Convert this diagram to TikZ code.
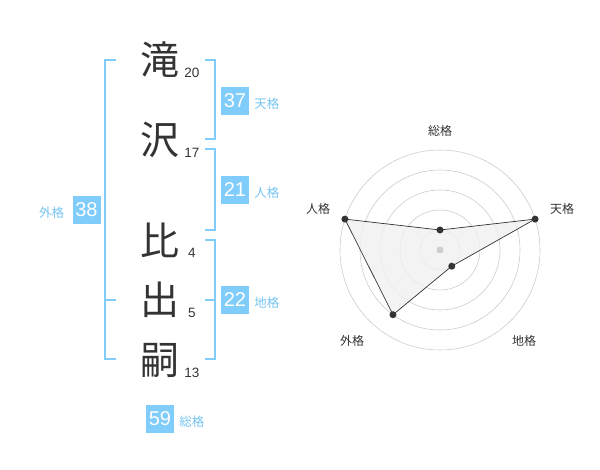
\documentclass[tikz,border=0pt]{standalone}
\usepackage{fontspec}
\setmainfont{Liberation Sans}
\newfontfamily\jpfont{Noto Sans CJK JP}
\usetikzlibrary{calc,positioning}
\definecolor{kakublue}{RGB}{128,204,250}
\definecolor{kakutext}{RGB}{118,196,242}
\definecolor{inkgray}{RGB}{51,51,51}
\definecolor{ringgray}{RGB}{205,205,205}

\begin{document}
\begin{tikzpicture}[x=1pt,y=-1pt,
		kanji/.style={inner sep=0pt,text=inkgray,font=\fontsize{39}{39}\selectfont\jpfont},
		stroke/.style={inner sep=0pt,text=inkgray,font=\fontsize{13.5}{13.5}\selectfont},
		kakubox/.style={fill=kakublue,text=white,minimum size=28pt,inner sep=0pt,font=\fontsize{20}{20}\selectfont},
		kakulabel/.style={inner sep=0pt,text=kakutext,font=\fontsize{12.5}{12.5}\selectfont\jpfont},
		bracket/.style={draw=kakublue,line width=2pt},
		ring/.style={draw=ringgray,line width=0.6pt},
		axislabel/.style={inner sep=0pt,text=inkgray,font=\fontsize{12}{12}\selectfont\jpfont}]
	\useasboundingbox (0,0) rectangle (600,470);
	% name characters with stroke counts
	\foreach \ch/\y/\n/\k in {滝/60/20/1,沢/140/17/2,比/240/4/3,出/300/5/4,嗣/360/13/5} {
		\node[kanji] (k\k) at (160,\y) {\ch};
		\node[stroke] (n\k) at (192,\y+12.5) {\n};
	}
	% brackets
	\coordinate (r1t) at (205,60);  \coordinate (r1b) at (205,139);
	\coordinate (r2t) at (205,149); \coordinate (r2b) at (205,230);
	\coordinate (r3t) at (205,240); \coordinate (r3b) at (205,359);
	\coordinate (r3m) at (205,300);
	\coordinate (l1t) at (116,60);  \coordinate (l1b) at (116,359);
	\coordinate (l1m) at (116,300);
	\draw[bracket] (r1t) -- ++(10,0) |- (r1b);
	\draw[bracket] (r2t) -- ++(10,0) |- (r2b);
	\draw[bracket] (r3t) -- ++(10,0) |- (r3b);
	\draw[bracket] (r3m) -- ++(10,0);
	\draw[bracket] (l1t) -- ++(-11,0) |- (l1b);
	\draw[bracket] (l1m) -- ++(-11,0);
	% fortune boxes
	\node[kakubox] (ten) at (235,101) {37};
	\node[kakulabel,right=5pt of ten,yshift=-3pt] (tenl) {天格};
	\node[kakubox] (jin) at (235,190) {21};
	\node[kakulabel,right=5pt of jin,yshift=-3pt] (jinl) {人格};
	\node[kakubox] (chi) at (235,300) {22};
	\node[kakulabel,right=5pt of chi,yshift=-3pt] (chil) {地格};
	\node[kakubox] (gai) at (86.5,210) {38};
	\node[kakulabel,left=8pt of gai,yshift=-3pt] (gail) {外格};
	\node[kakubox] (sou) at (160,419) {59};
	\node[kakulabel,right=5pt of sou,yshift=-3pt] (soul) {総格};
	% radar chart
	\coordinate (C) at (440,250);
	\foreach \r in {20,40,60,80,100}
		\draw[ring] (C) circle[radius=\r pt];
	\foreach \name/\ang/\r in {sou/90/20,ten/18/100,chi/-54/20,gai/-126/80,jin/162/100}
		\coordinate (p\name) at ($(C)+(\ang:\r pt)$);
	\filldraw[fill=black!6,fill opacity=0.8,draw=inkgray,line width=0.7pt]
		(psou) -- (pten) -- (pchi) -- (pgai) -- (pjin) -- cycle;
	\fill[ringgray] (C) circle[radius=3.5pt];
	\foreach \name in {sou,ten,chi,gai,jin}
		\fill[inkgray] (p\name) circle[radius=3.5pt];
	\node[axislabel] (asou) at (440,131) {総格};
	\node[axislabel] (aten) at (562,209) {天格};
	\node[axislabel] (achi) at (524,341) {地格};
	\node[axislabel] (agai) at (352,341) {外格};
	\node[axislabel] (ajin) at (318,209) {人格};
\end{tikzpicture}
\end{document}
